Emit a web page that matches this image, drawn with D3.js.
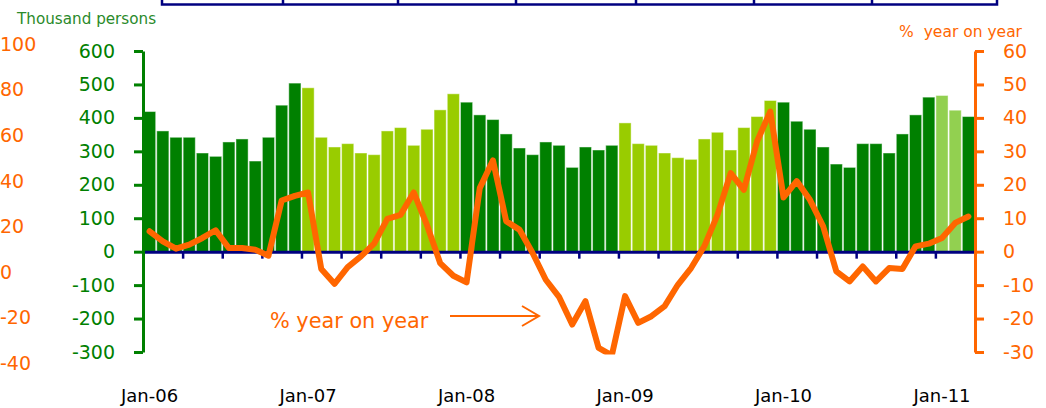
<!DOCTYPE html>
<html>
<head>
<meta charset="utf-8">
<script src="https://cdn.jsdelivr.net/npm/d3@7"></script>
<style>
body { margin: 0; background: #fff; }
text { font-family: "DejaVu Sans", Verdana, sans-serif; }
</style>
</head>
<body>
<svg id="chart" width="1046" height="408"></svg>
<script>

// months shown (one bar each)
var months = [
  "Jan-06","Feb-06","Mar-06","Apr-06","May-06","Jun-06","Jul-06","Aug-06","Sep-06","Oct-06","Nov-06","Dec-06",
  "Jan-07","Feb-07","Mar-07","Apr-07","May-07","Jun-07","Jul-07","Aug-07","Sep-07","Oct-07","Nov-07","Dec-07",
  "Jan-08","Feb-08","Mar-08","Apr-08","May-08","Jun-08","Jul-08","Aug-08","Sep-08","Oct-08","Nov-08","Dec-08",
  "Jan-09","Feb-09","Mar-09","Apr-09","May-09","Jun-09","Jul-09","Aug-09","Sep-09","Oct-09","Nov-09","Dec-09",
  "Jan-10","Feb-10","Mar-10","Apr-10","May-10","Jun-10","Jul-10","Aug-10","Sep-10","Oct-10","Nov-10","Dec-10",
  "Jan-11","Feb-11","Mar-11"
]

// thousand persons (bars, left axis)
var employment = [
  419, 361, 342, 342, 295, 285, 328, 337, 271, 342, 438, 504,
  490, 342, 313, 323, 295, 290, 361, 371, 318, 366, 424, 472,
  447, 409, 395, 352, 310, 290, 328, 318, 252, 313, 304, 318,
  385, 323, 318, 295, 281, 276, 337, 357, 304, 371, 404, 452,
  447, 390, 366, 313, 262, 252, 323, 323, 295, 352, 409, 462,
  467, 423, 404
]

// % year on year (line, right axis)
var yoy = [
  6.1, 3.1, 0.9, 2.1, 4.1, 6.4, 1.1, 1.1, 0.6, -1.2, 15.3, 16.7,
  17.7, -5.2, -9.6, -4.6, -1.4, 2.4, 9.8, 11.0, 17.7, 8.0, -3.4, -7.2,
  -9.2, 19.0, 27.3, 9.1, 6.6, -0.4, -8.4, -13.5, -21.8, -14.8, -28.8, -31.0,
  -13.3, -21.3, -19.3, -16.3, -9.9, -4.9, 1.6, 11.0, 23.5, 18.5, 33.0, 41.9,
  16.2, 21.1, 15.5, 7.6, -5.9, -8.9, -4.4, -8.9, -4.9, -5.2, 1.6, 2.4,
  4.1, 8.6, 10.5
]

var xLabels = ["Jan-06", "Jan-07", "Jan-08", "Jan-09", "Jan-10", "Jan-11"]
var leftTicks = [-300, -200, -100, 0, 100, 200, 300, 400, 500, 600]
var rightTicks = [-30, -20, -10, 0, 10, 20, 30, 40, 50, 60]
var strayTicks = [-40, -20, 0, 20, 40, 60, 80, 100]   // the loose orange labels at far left

;(function () {
  var green = "#008000", lime = "#99cc00", pale = "#92d050", orange = "#ff6600", navy = "#000080"
  var font = "DejaVu Sans, Verdana, sans-serif"
  var plain = d => String(d)   // keep hyphen minus like the original

  // plot box
  var pLeft = 143, pRight = 975, pTop = 51, pBottom = 352

  var svg = d3.select("#chart")

  var x = d3.scaleBand().domain(months).range([pLeft, pRight]).paddingInner(0.08).paddingOuter(0.04)
  var xi = d3.scaleLinear().domain([0, months.length]).range([pLeft, pRight])
  var yL = d3.scaleLinear().domain([-300, 600]).range([pBottom, pTop])
  var yR = d3.scaleLinear().domain([-30, 60]).range([pBottom, pTop])
  var yStray = d3.scaleLinear().domain([-40, 100]).range([363.5, 44])

  var yearShade = { "06": green, "07": lime, "08": green, "09": lime, "10": green, "11": green }
  function barColor (m) {
    if (m === "Jan-11" || m === "Feb-11") return pale
    return yearShade[m.slice(4)]
  }

  // bottom edge of the table box cut off at the top
  svg.append("rect").attr("x", 162).attr("y", -10).attr("width", 835).attr("height", 14.5)
    .attr("fill", "none").attr("stroke", navy).attr("stroke-width", 2.5)
  svg.selectAll(".cell").data([283, 398, 516, 636, 754, 872]).join("line")
    .attr("x1", d => d).attr("x2", d => d).attr("y1", 0).attr("y2", 4)
    .attr("stroke", navy).attr("stroke-width", 2.5)

  // bars
  svg.selectAll(".bar").data(months).join("rect")
    .attr("class", "bar")
    .attr("x", m => x(m))
    .attr("width", x.bandwidth())
    .attr("y", (m, i) => yL(employment[i]))
    .attr("height", (m, i) => yL(0) - yL(employment[i]))
    .attr("fill", barColor)
    .attr("stroke", "rgba(255,255,255,0.45)")
    .attr("stroke-width", 1)

  // x axis line with quarterly ticks
  var gx = svg.append("g").attr("transform", "translate(0," + yL(0) + ")")
    .call(d3.axisBottom(xi).tickValues(d3.range(0, months.length + 1, 3)).tickSize(7).tickSizeOuter(0).tickFormat(""))
  gx.select(".domain").attr("stroke", navy).attr("stroke-width", 3)
  gx.selectAll(".tick line").attr("stroke", navy).attr("stroke-width", 2.5)

  // x labels
  var gxl = svg.append("g").attr("transform", "translate(0,389)")
    .call(d3.axisBottom(x).tickValues(xLabels).tickSize(0).tickPadding(0))
  gxl.select(".domain").remove()
  gxl.attr("font-size", 18).attr("font-family", font).attr("color", "#000")

  // left axis (thousand persons)
  var gl = svg.append("g").attr("transform", "translate(" + pLeft + ",0)")
    .call(d3.axisLeft(yL).tickValues(leftTicks).tickFormat(plain).tickSize(9).tickPadding(19).tickSizeOuter(0))
  gl.attr("color", green).attr("font-size", 19).attr("font-family", font)
  gl.select(".domain").attr("stroke-width", 3)
  gl.selectAll(".tick line").attr("stroke-width", 3)

  // right axis (% yoy)
  var gr = svg.append("g").attr("transform", "translate(" + pRight + ",0)")
    .call(d3.axisRight(yR).tickValues(rightTicks).tickFormat(plain).tickSize(9).tickPadding(19).tickSizeOuter(0))
  gr.attr("color", orange).attr("font-size", 19).attr("font-family", font)
  gr.select(".domain").attr("stroke-width", 3)
  gr.selectAll(".tick line").attr("stroke-width", 3)

  // stray orange labels on the far left
  var gs = svg.append("g")
    .call(d3.axisRight(yStray).tickValues(strayTicks).tickFormat(plain).tickSize(0).tickPadding(0))
  gs.select(".domain").remove()
  gs.attr("color", orange).attr("font-size", 19).attr("font-family", font)

  // yoy line
  svg.append("clipPath").attr("id", "clip")
    .append("rect").attr("x", 0).attr("y", 0).attr("width", 1046).attr("height", 354.5)

  var line = d3.line()
    .x((d, i) => x(months[i]) + x.bandwidth() / 2)
    .y(d => yR(d))

  svg.append("path").datum(yoy)
    .attr("d", line)
    .attr("fill", "none")
    .attr("stroke", orange)
    .attr("stroke-width", 6)
    .attr("stroke-linejoin", "round")
    .attr("stroke-linecap", "round")
    .attr("clip-path", "url(#clip)")

  // axis titles
  svg.append("text").attr("x", 17).attr("y", 24)
    .attr("font-size", 15.2).attr("fill", "#2a8a2a").text("Thousand persons")
  svg.append("text").attr("x", 1022).attr("y", 36.5).attr("text-anchor", "end")
    .attr("font-size", 15.5).attr("fill", orange).style("white-space", "pre").text("%  year on year")

  // annotation with arrow
  svg.append("text").attr("x", 270).attr("y", 328)
    .attr("font-size", 20.8).attr("fill", orange).text("% year on year")
  svg.append("path")
    .attr("d", "M450,316H539M522,306L539,316L522,326")
    .attr("fill", "none").attr("stroke", orange).attr("stroke-width", 2)
})()

</script>
</body>
</html>
